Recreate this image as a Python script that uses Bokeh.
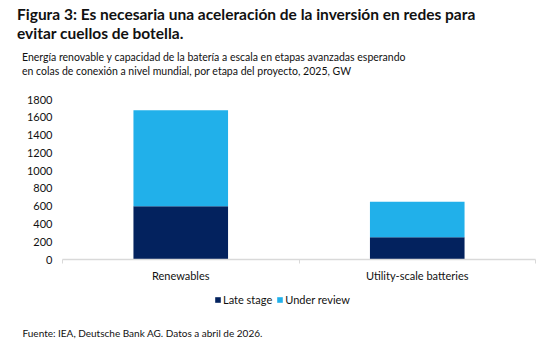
from bokeh.plotting import figure
from bokeh.layouts import column
from bokeh.models import (ColumnDataSource, FixedTicker, Legend, LegendItem, Title, Div,
                          Range1d, NumeralTickFormatter)
from bokeh.embed import file_html
from bokeh.resources import INLINE

# Grid-connection queue capacity, 2025, GW
categories = ["Renewables", "Utility-scale batteries"]
late_stage = [600, 250]
under_review = [1080, 400]
series_names = ["Late stage", "Under review"]
y_ticks = [0, 200, 400, 600, 800, 1000, 1200, 1400, 1600, 1800]

title_lines = ["Figura 3: Es necesaria una aceleración de la inversión en redes para",
               "evitar cuellos de botella."]
subtitle_lines = ["Energía renovable y capacidad de la batería a escala en etapas avanzadas esperando",
                  "en colas de conexión a nivel mundial, por etapa del proyecto, 2025, GW"]
source_text = "Fuente: IEA, Deutsche Bank AG. Datos a abril de 2026."

DARK = "#03225E"
LIGHT = "#21B0EA"
FONT = "Lato"
TXT = "#111111"

x_pos = [i + 0.5 for i in range(len(categories))]
src = ColumnDataSource(dict(
    x=x_pos,
    late=late_stage,
    review=under_review,
))

# ---- header ----
header = Div(
    width=559, height=91, margin=(0, 0, 0, 0),
    text=(
        f'<div style="position:relative;width:559px;height:91px;font-family:{FONT};color:{TXT};">'
        f'<div style="position:absolute;left:17px;top:5px;font-size:15.5px;font-weight:bold;'
        f'line-height:19px;white-space:nowrap;">{"<br>".join(title_lines)}</div>'
        f'<div style="position:absolute;left:22px;top:51px;font-size:10.5px;'
        f'line-height:13.5px;white-space:nowrap;">{"<br>".join(subtitle_lines)}</div>'
        '</div>'
    ),
)

# ---- main chart ----
p = figure(width=559, height=199, output_backend="svg", toolbar_location=None,
           x_range=Range1d(0, len(categories)), y_range=Range1d(0, 1800),
           min_border_left=62, min_border_right=24, min_border_top=8,
           min_border_bottom=31)
p.outline_line_color = None
p.grid.grid_line_color = None
p.background_fill_color = "white"
p.border_fill_color = "white"

p.vbar_stack(["late", "review"], x="x", width=0.40, source=src,
             color=[DARK, LIGHT], line_color=None)

# x axis: labels centred on bars, small ticks at category boundaries
xa = p.xaxis[0]
xa.ticker = FixedTicker(ticks=x_pos, minor_ticks=list(range(len(categories) + 1)))
xa.major_label_overrides = {x: c for x, c in zip(x_pos, categories)}
xa.major_tick_line_color = None
xa.major_tick_out = 0
xa.major_tick_in = 0
xa.minor_tick_line_color = "#D9D9D9"
xa.minor_tick_out = 4
xa.minor_tick_in = 0
xa.axis_line_color = "#D9D9D9"
xa.axis_line_width = 1.5
xa.major_label_text_font = FONT
xa.major_label_text_font_size = "11px"
xa.major_label_text_color = TXT
xa.major_label_standoff = 5

ya = p.yaxis[0]
ya.ticker = FixedTicker(ticks=y_ticks)
ya.formatter = NumeralTickFormatter(format="0")
ya.axis_line_color = None
ya.major_tick_line_color = None
ya.major_tick_out = 0
ya.major_tick_in = 0
ya.minor_tick_line_color = None
ya.major_label_text_font = FONT
ya.major_label_text_font_size = "11px"
ya.major_label_text_color = TXT
ya.major_label_standoff = 10

# ---- footer strip: legend and source note ----
f = figure(width=559, height=55, output_backend="svg", toolbar_location=None,
           x_range=Range1d(0, len(categories)), y_range=Range1d(0, 1800),
           x_axis_location=None, y_axis_location=None,
           min_border_left=62, min_border_right=24, min_border_top=0, min_border_bottom=26)
f.outline_line_color = None
f.grid.grid_line_color = None
f.border_fill_color = "white"
f.background_fill_color = "white"
# same stacked series, kept hidden here: they only supply the legend swatches
swatches = f.vbar_stack(["late", "review"], x="x", width=0.40, source=src,
                        color=[DARK, LIGHT], line_color=None, visible=False)

legend = Legend(items=[LegendItem(label=n, renderers=[r]) for n, r in zip(series_names, swatches)],
                orientation="horizontal", location=(152, 13), click_policy="none",
                label_text_font=FONT, label_text_font_size="11px",
                label_text_color=TXT, glyph_width=7, glyph_height=7,
                label_standoff=2, spacing=4, padding=0, margin=0,
                border_line_color=None, background_fill_alpha=0)
f.add_layout(legend, "center")

source_note = Title(text=source_text, align="left", offset=-40, text_font=FONT,
                    text_font_size="10px", text_font_style="normal", text_color=TXT,
                    standoff=10)
f.add_layout(source_note, "below")

layout = column(header, p, f, spacing=0)
open("out.html", "w").write(file_html(layout, INLINE))
